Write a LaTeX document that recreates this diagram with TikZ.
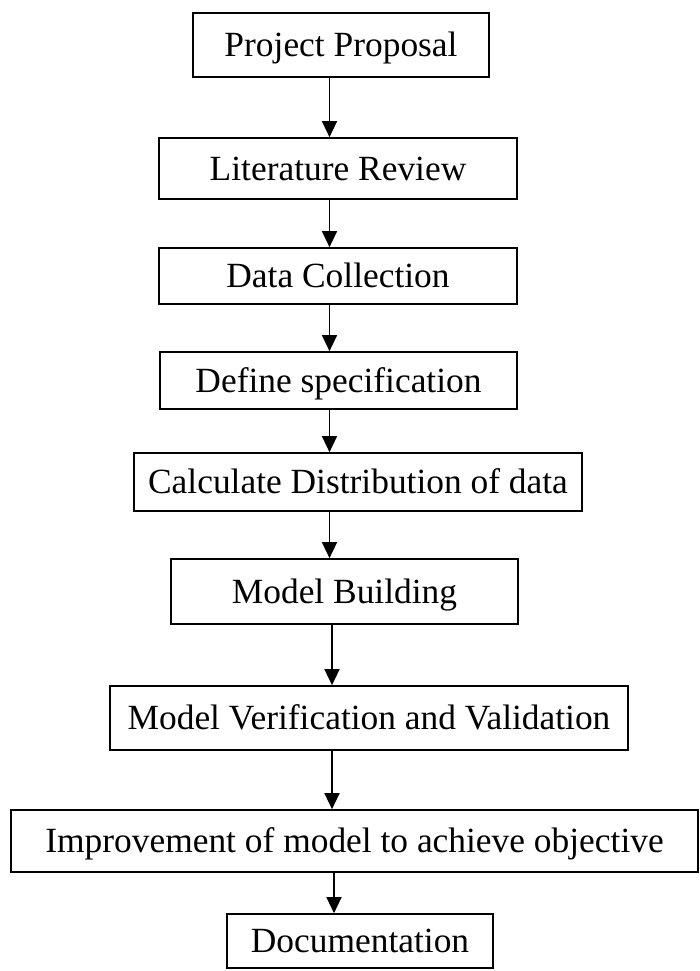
\documentclass[tikz,border=0pt]{standalone}
\usepackage{fontspec}
\setmainfont{Liberation Serif}
\usetikzlibrary{arrows.meta}
\begin{document}
\begin{tikzpicture}[x=1pt,y=-1pt,
  stepbox/.style={draw, line width=1.7pt, rectangle, inner sep=0pt,
    font=\fontsize{35.4}{42}\selectfont, text height=23.4pt, text depth=0pt},
  flow/.style={line width=1.5pt, -{Triangle[width=15pt,length=16pt]}}]
\useasboundingbox (0,0) rectangle (699,971);
% process steps, top to bottom
\node[stepbox, minimum width=296pt, minimum height=64pt] (pp)   at (341,45)    {Project Proposal};
\node[stepbox, minimum width=358pt, minimum height=61pt] (lr)   at (338,168.5) {Literature Review};
\node[stepbox, minimum width=358pt, minimum height=56pt] (dc)   at (338,276)   {Data Collection};
\node[stepbox, minimum width=357pt, minimum height=57pt] (ds)   at (338.5,380.5) {Define specification};
\node[stepbox, minimum width=448pt, minimum height=58pt] (calc) at (358,482)   {Calculate Distribution of data};
\node[stepbox, minimum width=347pt, minimum height=65pt] (mb)   at (344.5,591.5) {Model Building};
\node[stepbox, minimum width=518pt, minimum height=64pt] (mv)   at (369,718)   {Model Verification and Validation};
\node[stepbox, minimum width=687pt, minimum height=62pt] (imp)  at (354.5,841) {Improvement of model to achieve objective};
\node[stepbox, minimum width=266pt, minimum height=54pt] (doc)  at (360,941)   {Documentation};
% vertical positions of the connectors
\coordinate (xa) at (329.5,0);
\coordinate (xb) at (332,0);
\coordinate (xc) at (334,0);
\draw[flow] (pp.south -| xa)   -- (lr.north -| xa);
\draw[flow] (lr.south -| xa)   -- (dc.north -| xa);
\draw[flow] (dc.south -| xa)   -- (ds.north -| xa);
\draw[flow] (ds.south -| xa)   -- (calc.north -| xa);
\draw[flow] (calc.south -| xa) -- (mb.north -| xa);
\draw[flow] (mb.south -| xb)   -- (mv.north -| xb);
\draw[flow] (mv.south -| xb)   -- (imp.north -| xb);
\draw[flow] (imp.south -| xc)  -- (doc.north -| xc);
\end{tikzpicture}
\end{document}
